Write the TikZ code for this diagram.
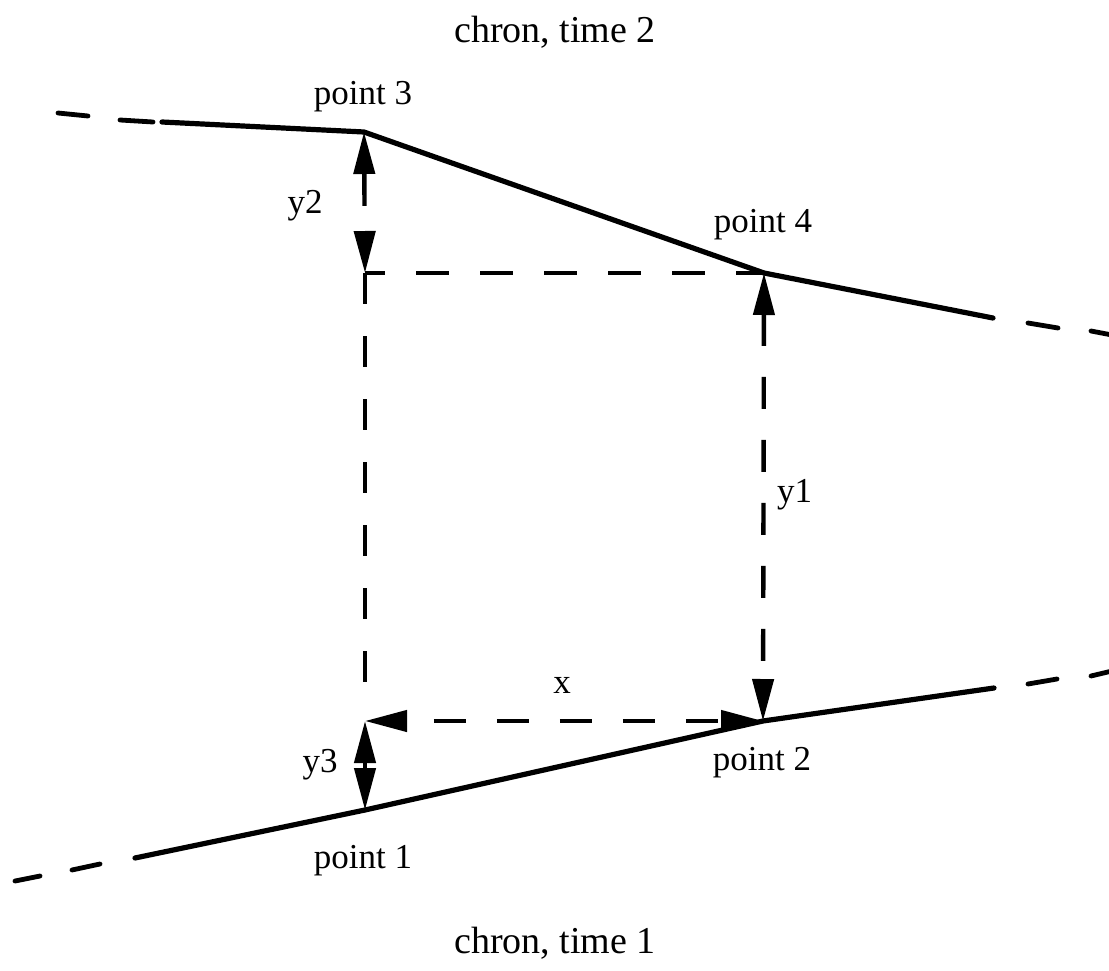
\documentclass[tikz,border=0pt]{standalone}
\usepackage{fontspec}
\setmainfont{Liberation Serif}
\usetikzlibrary{arrows.meta}
\begin{document}
\begin{tikzpicture}[x=1pt,y=-1pt,
  solidline/.style={line width=5.2pt,line cap=round,line join=round},
  tailline/.style={line width=4.8pt,line cap=round},
  guide/.style={line width=4.4pt,dash pattern=on 32pt off 31pt},
  tip/.tip={Triangle[length=42pt,width=21pt]},
  dimarrow/.style={line width=4.4pt,tip-tip},
  lbl/.style={inner sep=0pt,anchor=base,font=\fontsize{35}{40}\selectfont},
  title/.style={inner sep=0pt,anchor=base,font=\fontsize{38}{44}\selectfont}]
\useasboundingbox (0,0) rectangle (1109,971);
% key points
\coordinate (p1) at (365,810);
\coordinate (p2) at (763,721);
\coordinate (p3) at (364,132);
\coordinate (p4) at (764,273);
\coordinate (c) at (365,273);
\coordinate (b) at (365,721);
% upper line (time 2)
\coordinate (ta1) at (58,113); \coordinate (ta2) at (88,116);
\coordinate (tb1) at (120,120); \coordinate (tb2) at (153,122);
\coordinate (ts) at (162,122);
\coordinate (te) at (993,318);
\coordinate (tc1) at (1028,323); \coordinate (tc2) at (1058,328);
\coordinate (td1) at (1091,331); \coordinate (td2) at (1112,335);
\draw[tailline] (ta1) -- (ta2);
\draw[tailline] (tb1) -- (tb2);
\draw[solidline] (ts) -- (p3) -- (p4) -- (te);
\draw[tailline] (tc1) -- (tc2);
\draw[tailline] (td1) -- (td2);
% lower line (time 1)
\coordinate (ba1) at (15,881); \coordinate (ba2) at (40,876);
\coordinate (bb1) at (72,870); \coordinate (bb2) at (100,864);
\coordinate (bs) at (135,858);
\coordinate (be) at (994,688);
\coordinate (bc1) at (1028,684); \coordinate (bc2) at (1057,679);
\coordinate (bd1) at (1091,676); \coordinate (bd2) at (1112,671);
\draw[tailline] (ba1) -- (ba2);
\draw[tailline] (bb1) -- (bb2);
\draw[solidline] (bs) -- (p1) -- (p2) -- (be);
\draw[tailline] (bc1) -- (bc2);
\draw[tailline] (bd1) -- (bd2);
% guide lines
\coordinate (vend) at (365,690);
\draw[guide,dash pattern=on 33pt off 31pt,dash phase=13pt] (c) -- (p4);
\draw[guide,dash pattern=on 31pt off 32pt] (c) -- (vend);
% dimension arrows
\draw[dimarrow,dash pattern=on 33pt off 30pt] (p3) -- (c);
\draw[dimarrow,dash pattern=on 32pt off 31pt] (p4) -- (p2);
\draw[dimarrow,dash pattern=on 32pt off 31pt,dash phase=35pt] (b) -- (p2);
\draw[dimarrow] (b) -- (p1);
% labels
\node[title] (t2) at (555,43) {chron, time 2};
\node[title] (t1) at (555,953) {chron, time 1};
\node[lbl] (l3) at (363,105) {point 3};
\node[lbl] (l4) at (763,232) {point 4};
\node[lbl] (l2) at (762,770) {point 2};
\node[lbl] (l1) at (363,868) {point 1};
\node[lbl,anchor=base west] (ly1) at (777,502) {y1};
\node[lbl] (ly2) at (305,213) {y2};
\node[lbl] (ly3) at (320,772) {y3};
\node[lbl] (lx) at (562,693) {x};
\end{tikzpicture}
\end{document}
